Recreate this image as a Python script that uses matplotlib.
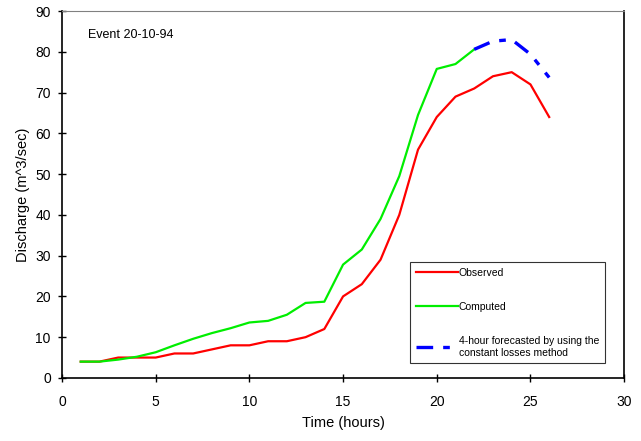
import numpy as np
import matplotlib.pyplot as plt

plt.rcParams['font.family'] = ['Liberation Sans', 'DejaVu Sans']

# ---- Datos ----
hours_obs = [1, 2, 3, 4, 5, 6, 7, 8, 9, 10, 11, 12, 13, 14, 15, 16, 17, 18, 19, 20, 21, 22, 23, 24, 25, 26]
observed = [4, 4, 5, 5, 5, 6, 6, 7, 8, 8, 9, 9, 10, 12, 20, 23, 29, 40, 56, 64, 69, 71, 74, 75, 72, 64]

hours_comp = [1, 2, 3, 4, 5, 6, 7, 8, 9, 10, 11, 12, 13, 14, 15, 16, 17, 18, 19, 20, 21, 22]
computed = [4, 4, 4.5, 5.2, 6.3, 8, 9.6, 11, 12.2, 13.6, 14, 15.5, 18.4, 18.7, 27.8, 31.5, 39, 49.5, 64.5, 75.8, 77, 80.6]

hours_fc = [22, 23, 24, 25, 26]
forecast = [80.6, 82.6, 83, 79.4, 73.7]

# ---- Graficar ----
fig = plt.figure(figsize=(6.41, 4.41), dpi=100)
ax = fig.add_axes([0.0967, 0.143, 0.877, 0.832])

ax.plot(hours_obs, observed, color='#ff0000', lw=1.6, label='Observed')
ax.plot(hours_comp, computed, color='#00ee00', lw=1.6, label='Computed')
ax.plot(hours_fc, forecast, color='#0000ff', lw=2.4, dashes=(5, 3, 2, 3),
        label='4-hour forecasted by using the\nconstant losses method')

ax.set_xlim(0, 30)
ax.set_ylim(0, 90)
ax.set_xticks(range(0, 31, 5))
ax.set_yticks(range(0, 91, 10))
ax.tick_params(direction='inout', length=6, width=1, labelsize=10)
ax.tick_params(axis='x', pad=9)
ax.tick_params(axis='y', pad=5)
for side in ['left', 'bottom', 'right']:
    ax.spines[side].set_color('black')
    ax.spines[side].set_linewidth(1.2)
ax.spines['top'].set_color('#808080')

ax.set_xlabel("Time (hours)", fontsize=10.5, labelpad=5)
ax.set_ylabel("Discharge (m^3/sec)", fontsize=10.5, labelpad=4)
ax.text(1.4, 83.3, "Event 20-10-94", fontsize=9)

leg = ax.legend(loc='lower right', bbox_to_anchor=(0.966, 0.04), fontsize=7.5,
                frameon=True, fancybox=False, handlelength=4.0, handletextpad=0.1,
                labelspacing=2.3, borderpad=0.55, borderaxespad=0)
leg.get_frame().set_edgecolor('black')
leg.get_frame().set_linewidth(0.8)

fig.savefig('out.png', dpi=100)
